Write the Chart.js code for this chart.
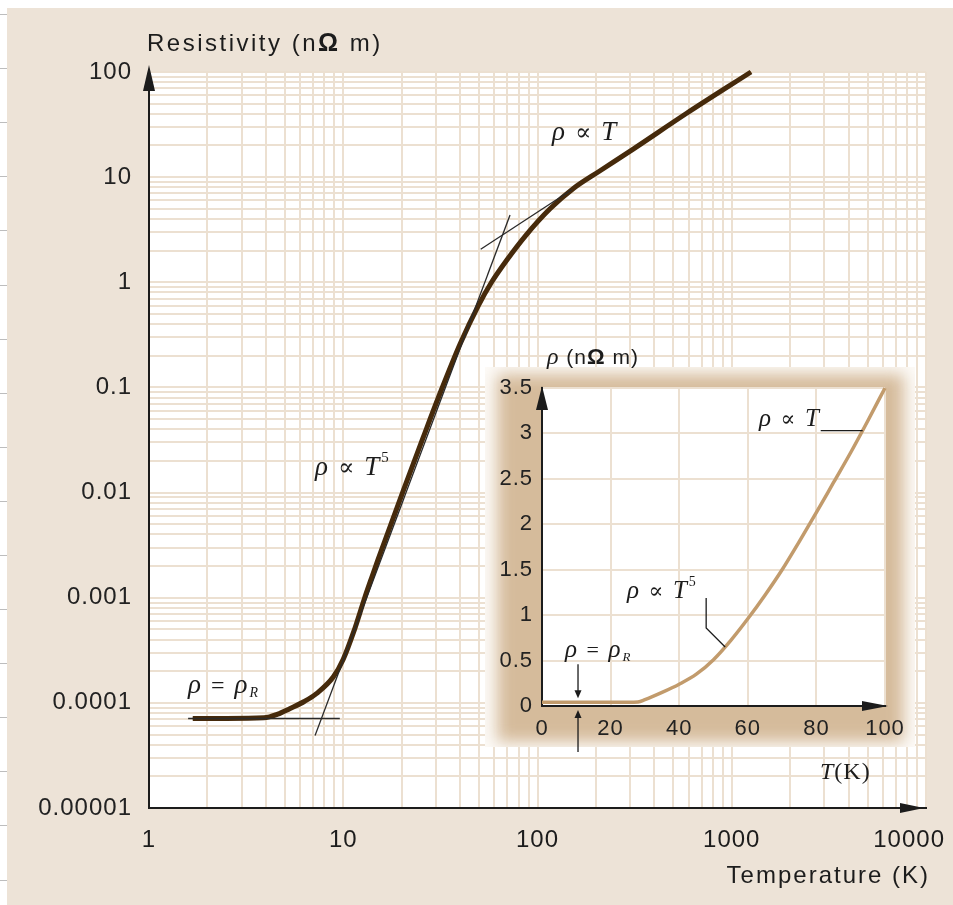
<!DOCTYPE html>
<html lang="en">
<head>
<meta charset="UTF-8">
<title>Resistivity vs Temperature</title>
<script src="https://cdn.jsdelivr.net/npm/chart.js@4"></script>
<style>
    body { margin: 0; background: #fff; }
    .page { position: relative; width: 953px; height: 905px; overflow: hidden; }
    .paper { position: absolute; left: 7px; top: 8px; right: 0; bottom: 0; background: #ede3d7; }
    .edge {
        position: absolute; left: 0; top: 0; width: 7px; height: 905px;
        background: repeating-linear-gradient(to bottom, transparent 0, transparent 14px, #bdbdbd 14px, #bdbdbd 15px, transparent 15px, transparent 54.1px);
    }
    #main { position: absolute; left: 0; top: 0; }
    #inset { position: absolute; left: 470px; top: 335px; }
</style>
</head>
<body>
<div class="page">
    <div class="edge"></div>
    <div class="paper"></div>
    <canvas id="main" width="953" height="905"></canvas>
    <canvas id="inset" width="455" height="455"></canvas>
</div>

<script>
// main log-log curve (T in K, rho in nOhm m)
const tempK = [1.68, 2.5, 3.9, 4.6, 5.3, 6.3, 7.3, 8.9, 10, 11.3, 12.9, 14, 15.1, 20.4, 25.8, 31.5, 40, 49.6, 58, 69.4, 88, 116, 153, 210, 311, 586, 1256];
const rho = [7.1e-5, 7.1e-5, 7.2e-5, 7.8e-5, 8.8e-5, 1.03e-4, 1.23e-4, 1.77e-4, 2.6e-4, 4.7e-4, 1.0e-3, 1.55e-3, 2.3e-3, 0.0105, 0.0335, 0.088, 0.26, 0.60, 1.0, 1.62, 2.86, 5.0, 7.8, 11.5, 18.5, 40.5, 100];

// thin asymptote lines
const residTemp = [1.59, 9.6];
const residRho = [7.1e-5, 7.1e-5];
const t5Temp = [7.16, 72.2];
const t5Rho = [4.9e-5, 4.36];
const linTemp = [51, 150];
const linRho = [2.06, 7.6];

// inset (linear axes)
const insetT = [0, 10, 20, 25, 28, 30, 35, 40, 45, 50, 55, 60, 65, 70, 75, 80, 85, 90, 95, 100];
const insetRho = [0.04, 0.04, 0.04, 0.04, 0.045, 0.07, 0.15, 0.24, 0.35, 0.51, 0.72, 0.96, 1.22, 1.50, 1.81, 2.13, 2.46, 2.79, 3.14, 3.50];
const insetLinAnchor = [93.5, 3.03];
const insetT5Anchor = [53.4, 0.65];
const insetResidT = 10.5;

// ticks
const xTickValues = [1, 10, 100, 1000, 10000];
const xTickLabels = ['1', '10', '100', '1000', '10000'];
const yTickValues = [0.00001, 0.0001, 0.001, 0.01, 0.1, 1, 10, 100];
const yTickLabels = ['0.00001', '0.0001', '0.001', '0.01', '0.1', '1', '10', '100'];
const insetXTicks = [0, 20, 40, 60, 80, 100];
const insetYTicks = [0, 0.5, 1, 1.5, 2, 2.5, 3, 3.5];

const gridColor = '#ece0d1';
const ink = '#1c1c1c';
const SANS = s => s + 'px "Liberation Sans", Arial, sans-serif';
const SANS_B = s => 'bold ' + s + 'px "Liberation Sans", Arial, sans-serif';
const SERIF = s => s + 'px "Liberation Serif", "DejaVu Serif", serif';
const SERIF_I = s => 'italic ' + s + 'px "Liberation Serif", "DejaVu Serif", serif';

function pts(xs, ys) {
    return xs.map((x, i) => ({ x: x, y: ys[i] }));
}

// 1..9 grid lines inside every decade
function logGrid(decades) {
    const out = [];
    for (let i = 0; i < decades.length - 1; i++) {
        for (let m = 1; m < 10; m++) out.push({ value: decades[i] * m });
    }
    out.push({ value: decades[decades.length - 1] });
    return out;
}

function decadeLabel(values, labels, v) {
    const i = values.findIndex(d => Math.abs(Math.log10(d) - Math.log10(v)) < 1e-6);
    return i < 0 ? '' : labels[i];
}

function tri(ctx, x1, y1, x2, y2, x3, y3) {
    ctx.beginPath();
    ctx.moveTo(x1, y1);
    ctx.lineTo(x2, y2);
    ctx.lineTo(x3, y3);
    ctx.closePath();
    ctx.fill();
}

function drawRich(ctx, parts, x, y) {
    let cx = x;
    parts.forEach(([text, font, dy]) => {
        ctx.font = font;
        ctx.fillText(text, cx, y + (dy || 0));
        cx += ctx.measureText(text).width;
    });
}

const mainDecor = {
    id: 'mainDecor',
    beforeDraw(chart) {
        const ctx = chart.ctx, a = chart.chartArea;
        ctx.save();
        ctx.fillStyle = '#fff';
        ctx.fillRect(a.left, a.top, a.right - a.left, a.bottom - a.top);
        ctx.restore();
        ctx.letterSpacing = '1px';
    },
    afterDraw(chart) {
        const ctx = chart.ctx, a = chart.chartArea;
        ctx.save();
        ctx.fillStyle = ink;
        // axis arrowheads
        tri(ctx, a.left, a.top - 7, a.left - 6, a.top + 19, a.left + 6, a.top + 19);
        tri(ctx, a.right - 2, a.bottom, a.right - 26, a.bottom - 5, a.right - 26, a.bottom + 5);

        // x tick labels
        ctx.font = SANS(24);
        ctx.letterSpacing = '1px';
        ctx.textAlign = 'center';
        xTickValues.forEach((v, i) => {
            const w = ctx.measureText(xTickLabels[i]).width;
            const px = Math.min(chart.scales.x.getPixelForValue(v), 945 - w / 2);
            ctx.fillText(xTickLabels[i], px, 847);
        });

        // axis titles
        ctx.textAlign = 'left';
        ctx.letterSpacing = '2.5px';
        drawRich(ctx, [['Resistivity (n', SANS(24)], ['\u03A9', SANS_B(25)], [' m)', SANS(24)]], 147, 51);
        ctx.letterSpacing = '2px';
        ctx.textAlign = 'right';
        ctx.font = SANS(24);
        ctx.fillText('Temperature (K)', 930, 883);

        // annotations
        ctx.textAlign = 'left';
        ctx.letterSpacing = '2px';
        drawRich(ctx, [['\u03C1', SERIF_I(27)], [' \u221D ', SERIF(24)], ['T', SERIF_I(27)]], 552, 140);
        drawRich(ctx, [['\u03C1', SERIF_I(27)], [' \u221D ', SERIF(24)], ['T', SERIF_I(27)], ['5', SERIF(15), -13]], 315, 475);
        drawRich(ctx, [['\u03C1', SERIF_I(27)], [' = ', SERIF(24)], ['\u03C1', SERIF_I(27)], ['R', SERIF_I(14), 4]], 188, 693);
        ctx.restore();
    }
};

new Chart(document.getElementById('main'), {
    type: 'line',
    data: {
        datasets: [
            { data: pts(residTemp, residRho), borderColor: '#2a2a2a', borderWidth: 1.3 },
            { data: pts(t5Temp, t5Rho), borderColor: '#2a2a2a', borderWidth: 1.3 },
            { data: pts(linTemp, linRho), borderColor: '#2a2a2a', borderWidth: 1.3 },
            { data: pts(tempK, rho), borderColor: '#462a0b', borderWidth: 5, cubicInterpolationMode: 'monotone', clip: 8 },
            { data: pts(tempK, rho), borderColor: '#86521a', borderWidth: 2.6, cubicInterpolationMode: 'monotone', clip: 8 }
        ]
    },
    options: {
        responsive: false,
        animation: false,
        devicePixelRatio: 1,
        elements: { point: { radius: 0 }, line: { fill: false } },
        plugins: { legend: { display: false }, tooltip: { enabled: false } },
        layout: { padding: { top: 72, right: 27, left: 0, bottom: 0 } },
        scales: {
            x: {
                type: 'logarithmic',
                min: 1,
                max: 10000,
                afterFit: s => { s.height = 97; },
                afterBuildTicks: s => { s.ticks = logGrid(xTickValues); },
                grid: { color: gridColor, lineWidth: 2, drawTicks: false },
                border: { color: ink, width: 2 },
                ticks: { display: false, autoSkip: false }
            },
            y: {
                type: 'logarithmic',
                min: 0.00001,
                max: 100,
                afterFit: s => { s.width = 149; },
                afterBuildTicks: s => { s.ticks = logGrid(yTickValues); },
                grid: { color: gridColor, lineWidth: 2, drawTicks: false },
                border: { color: ink, width: 2 },
                ticks: {
                    autoSkip: false,
                    padding: 17,
                    color: '#222',
                    font: { family: '"Liberation Sans", Arial, sans-serif', size: 24 },
                    callback: v => decadeLabel(yTickValues, yTickLabels, v)
                }
            }
        }
    },
    plugins: [mainDecor]
});

const insetDecor = {
    id: 'insetDecor',
    beforeDraw(chart) {
        const c = chart.ctx, a = chart.chartArea;
        c.save();
        c.beginPath();
        c.rect(15, 32, 430, 380);
        c.clip();
        c.fillStyle = '#fdfbf8';
        c.fillRect(15, 32, 430, 380);
        c.filter = 'blur(8px)';
        c.fillStyle = '#d5bb9b';
        c.fillRect(a.left - 45, a.top - 14, a.right - a.left + 64, a.bottom - a.top + 50);
        c.filter = 'none';
        c.fillStyle = '#fff';
        c.fillRect(a.left, a.top, a.right - a.left, a.bottom - a.top);
        c.restore();
        c.letterSpacing = '1px';
    },
    afterDraw(chart) {
        const ctx = chart.ctx, a = chart.chartArea;
        const xs = chart.scales.x, ys = chart.scales.y;
        ctx.save();
        ctx.fillStyle = ink;
        ctx.strokeStyle = ink;
        ctx.lineWidth = 1.3;
        // arrowheads
        tri(ctx, a.left, a.top - 2, a.left - 6, a.top + 22, a.left + 6, a.top + 22);
        tri(ctx, a.right + 3, a.bottom, a.right - 23, a.bottom - 5, a.right - 23, a.bottom + 5);

        // leader for rho ~ T
        const lx = xs.getPixelForValue(insetLinAnchor[0]), ly = ys.getPixelForValue(insetLinAnchor[1]);
        ctx.beginPath();
        ctx.moveTo(lx - 42, ly);
        ctx.lineTo(lx, ly);
        ctx.stroke();
        // leader for rho ~ T^5
        const fx = xs.getPixelForValue(insetT5Anchor[0]), fy = ys.getPixelForValue(insetT5Anchor[1]);
        ctx.beginPath();
        ctx.moveTo(fx, fy);
        ctx.lineTo(fx - 19, fy - 19);
        ctx.lineTo(fx - 19, fy - 49);
        ctx.stroke();
        // arrows pointing at residual level
        const rx = xs.getPixelForValue(insetResidT);
        const ry = ys.getPixelForValue(insetRho[0]);
        ctx.beginPath();
        ctx.moveTo(rx, ry - 38);
        ctx.lineTo(rx, ry - 8);
        ctx.moveTo(rx, a.bottom + 12);
        ctx.lineTo(rx, a.bottom + 46);
        ctx.stroke();
        tri(ctx, rx, ry - 4, rx - 3.5, ry - 12, rx + 3.5, ry - 12);
        tri(ctx, rx, a.bottom + 4, rx - 3.5, a.bottom + 12, rx + 3.5, a.bottom + 12);

        // texts
        ctx.letterSpacing = '1px';
        drawRich(ctx, [['\u03C1', SERIF_I(24)], [' (n', SANS(21)], ['\u03A9', SANS_B(22)], [' m)', SANS(21)]], 77, 29);
        ctx.letterSpacing = '2px';
        drawRich(ctx, [['\u03C1', SERIF_I(25)], [' \u221D ', SERIF(22)], ['T', SERIF_I(25)]], 289, 91);
        drawRich(ctx, [['\u03C1', SERIF_I(25)], [' \u221D ', SERIF(22)], ['T', SERIF_I(25)], ['5', SERIF(14), -12]], 157, 263);
        drawRich(ctx, [['\u03C1', SERIF_I(25)], [' = ', SERIF(22)], ['\u03C1', SERIF_I(25)], ['R', SERIF_I(13), 4]], 95, 322);
        ctx.letterSpacing = '1px';
        drawRich(ctx, [['T', SERIF_I(24)], ['(K)', SERIF(24)]], 350, 444);
        ctx.restore();
    }
};

new Chart(document.getElementById('inset'), {
    type: 'line',
    data: {
        datasets: [
            { data: pts(insetT, insetRho), borderColor: '#c29b6c', borderWidth: 3.5, cubicInterpolationMode: 'monotone', clip: 6 }
        ]
    },
    options: {
        responsive: false,
        animation: false,
        devicePixelRatio: 1,
        elements: { point: { radius: 0 }, line: { fill: false } },
        plugins: { legend: { display: false }, tooltip: { enabled: false } },
        layout: { padding: { top: 53, right: 40, left: 0, bottom: 0 } },
        scales: {
            x: {
                type: 'linear',
                min: 0,
                max: 100,
                afterFit: s => { s.height = 84; },
                afterBuildTicks: s => { s.ticks = insetXTicks.map(v => ({ value: v })); },
                grid: { color: gridColor, lineWidth: 2, drawTicks: false },
                border: { color: ink, width: 2 },
                ticks: {
                    autoSkip: false, maxRotation: 0, padding: 10, color: '#222',
                    font: { family: '"Liberation Sans", Arial, sans-serif', size: 22 },
                    callback: v => String(v)
                }
            },
            y: {
                type: 'linear',
                min: 0,
                max: 3.5,
                afterFit: s => { s.width = 72; },
                afterBuildTicks: s => { s.ticks = insetYTicks.map(v => ({ value: v })); },
                grid: { color: gridColor, lineWidth: 2, drawTicks: false },
                border: { color: ink, width: 2 },
                ticks: {
                    autoSkip: false, padding: 9, color: '#222',
                    font: { family: '"Liberation Sans", Arial, sans-serif', size: 22 },
                    callback: v => String(v)
                }
            }
        }
    },
    plugins: [insetDecor]
});
</script>
</body>
</html>
